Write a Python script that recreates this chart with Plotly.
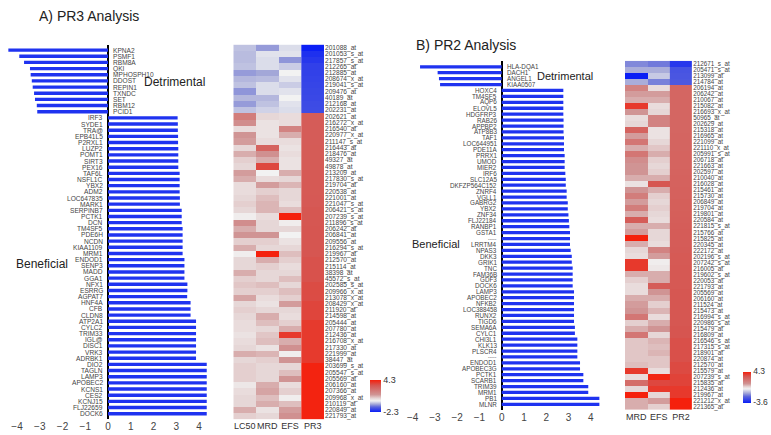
import plotly.graph_objects as go

W, H = 771, 435
FONT = "Liberation Sans, Arial, sans-serif"

# ---------------- Panel A: PR3 ----------------
genes_a = ["KPNA2", "PSMF1", "RBM8A", "QKI", "MPHOSPH10", "DDOST", "REPIN1", "TXNDC", "SET", "RBM12", "PCID1",
           "IRF3", "SYDE1", "TRA@", "EPB41L5", "P2RXL1", "LUZP2", "POMT1", "SIRT3", "PEX16", "TAF6L", "NSFL1C",
           "YBX2", "ADM2", "LOC647835", "MARK1", "SERPINB7", "PCTK1", "DCN", "TM4SF5", "PDE6H", "NCDN",
           "KIAA1109", "MRM1", "ENDOD1", "SENP3", "MADD", "GGA1", "NFX1", "ESRRG", "AGPAT7", "HNF4A", "CFB",
           "CLDN8", "ATP2A1", "CYLC2", "TRIM33", "IGL@", "DISC1", "VRK3", "ADRBK1", "DIO2", "TAGLN", "LAMP3",
           "APOBEC2", "KCNS1", "CES2", "KCNJ15", "FLJ22659", "DOCK6"]
probes_a = ["201088_at", "201053_s_at", "217857_s_at", "212265_at", "212885_at", "208674_x_at", "219041_s_at",
            "209476_at", "40189_at", "212168_at", "202231_at", "202621_at", "216272_x_at", "216540_at",
            "220977_x_at", "211147_s_at", "216443_at", "218476_at", "49327_at", "49878_at", "213209_at",
            "217830_s_at", "219704_at", "220538_at", "221001_at", "221047_s_at", "206421_s_at", "207239_s_at",
            "211896_s_at", "206242_at", "206841_at", "209556_at", "216294_s_at", "219967_at", "212570_at",
            "215114_at", "38398_at", "45572_s_at", "202585_s_at", "209966_x_at", "213078_x_at", "208429_x_at",
            "211920_at", "214598_at", "205444_at", "207780_at", "212436_at", "216708_x_at", "217330_at",
            "221999_at", "38447_at", "203699_s_at", "205547_s_at", "205569_at", "206160_at", "207366_at",
            "209968_x_at", "210119_at", "220849_at", "221793_at"]
pr3_score = [-4.38, -3.90, -3.69, -3.43, -3.40, -3.35, -3.31, -3.25, -3.21, -3.13, -3.11,
             3.06, 3.07, 3.07, 3.08, 3.08, 3.09, 3.09, 3.09, 3.09, 3.15, 3.15, 3.15, 3.15, 3.16, 3.16,
             3.24, 3.24, 3.24, 3.28, 3.28, 3.28, 3.28, 3.28, 3.36, 3.36, 3.36, 3.36, 3.49, 3.49, 3.48,
             3.63, 3.63, 3.63, 3.87, 3.87, 3.87, 3.87, 3.87, 3.87, 3.87,
             4.34, 4.34, 4.34, 4.34, 4.34, 4.34, 4.34, 4.34, 4.34]
lc50_a = [-0.45, -0.5, -0.5, -0.45, -0.8, -0.55, -0.45, -0.85, -0.55, -0.8, -0.45,
          2.0, 1.5, 0.4, 1.3, 1.2, 0.5, 1.0, 0.6, 0.5, 1.2, 1.0, 0.4, 0.4, 0.5, 0.6, 0.5, 0.1, 1.5,
          1.0, 1.3, 0.6, 1.0, 0.1, 0.5, 0.5, 1.0, 0.6, 0.7, 0.6, 1.1, 0.5, 0.6, 0.5, 0.4, 0.4, 0.3, 0.4,
          0.5, 1.0, 0.5, 0.6, 0.6, 0.6, 0.2, 0.4, 0.5, 0.5, 1.0, 0.6]
mrd_a = [-0.8, -0.15, -0.2, -0.2, -0.7, -0.5, -0.2, -0.2, -0.55, -0.45, -0.3,
         0.5, 0.3, 0.3, 0.3, 0.4, 2.8, 1.4, 1.0, 3.5, 0.0, 0.4, 1.2, 0.6, 0.8, 0.9, 0.9, 0.4, 0.5,
         0.5, 1.3, 0.6, 0.5, 4.3, 1.0, 0.6, 0.5, 0.5, 0.8, 0.6, 0.4, 0.3, 0.5, 1.0, 0.8, 0.5, 0.7, 0.8,
         0.3, 0.9, 0.6, 0.5, 0.5, 0.5, 1.0, 1.1, 0.8, 1.0, 0.3, 0.5]
efs_a = [-0.2, -0.15, -0.85, -0.35, 0.0, -0.15, -0.35, -0.15, 0.0, -0.15, -0.2,
         0.4, 0.4, 1.8, 1.0, 0.4, 0.3, 0.4, 0.3, 0.3, 1.0, 0.5, 0.9, 0.5, 0.5, 0.4, 0.8, 4.3, 0.1,
         0.5, 0.0, 0.3, 0.5, 0.8, 0.6, 0.4, 0.5, 0.8, 0.5, 0.8, 0.6, 1.2, 0.5, 0.4, 0.6, 1.0, 3.8, 1.0,
         1.4, 0.1, 1.3, 0.5, 0.8, 1.3, 0.4, 0.6, 0.1, 0.8, 1.2, 1.4]
cols_a = ["LC50", "MRD", "EFS", "PR3"]
range_a = [-2.3, 4.3]

# ---------------- Panel B: PR2 ----------------
genes_b = ["HLA-DQA1", "DACH1", "ANGEL1", "KIAA0507",
           "HOXC4", "TM4SF5", "AQP6", "ELOVL5", "HDGFRP3", "RAB26", "APPBP2", "ATP8B3", "TAF1", "LOC644951",
           "PDE11A", "PRRX1", "UMOD", "MIER2", "IRF6", "SLC12A5", "DKFZP564C152", "ZNRF4", "VGLL1", "GABRG2",
           "YBX2", "ZNF34", "FLJ22184", "RANBP1", "GSTA1", "-----", "LRRTM4", "NPAS3", "DKK3", "GRIK1", "TNC",
           "FAM36B", "GDF3", "DOCK6", "LAMP3", "APOBEC2", "NFKB2", "LOC388458", "RUNX2", "TIGD6", "SEMA6A",
           "CYLC1", "CHI3L1", "KLK13", "PLSCR4", "-----", "ENDOD1", "APOBEC3G", "PCTK1", "SCARB1", "TRIM39",
           "MRM1", "PB1", "MLNR"]
probes_b = ["212671_s_at", "205471_s_at", "213099_at", "214784_at",
            "206194_at", "206242_at", "210067_at", "215082_at", "216693_x_at", "50965_at", "202629_at",
            "215318_at", "216965_at", "221099_at", "221110_x_at", "205991_s_at", "206718_at", "221663_at",
            "202597_at", "210040_at", "216028_at", "215461_at", "215730_at", "206849_at", "219704_at",
            "219801_at", "220584_at", "221815_s_at", "215766_at", "215825_at", "220345_at", "222172_at",
            "202196_s_at", "207242_s_at", "216005_at", "219602_s_at", "220053_at", "221793_at", "205569_at",
            "206160_at", "211524_at", "215473_at", "216994_s_at", "220986_s_at", "215479_at", "216809_at",
            "216546_s_at", "217315_s_at", "218901_at", "220874_at", "212570_at", "215579_at", "207239_s_at",
            "215835_at", "212436_at", "219967_at", "221212_x_at", "221365_at"]
pr2_score = [-3.67, -2.88, -2.82, -2.77,
             2.77, 2.77, 2.77, 2.77, 2.77, 2.78, 2.78, 2.78, 2.80, 2.80, 2.80, 2.83, 2.83, 2.83, 2.86,
             2.88, 2.88, 2.92, 2.92, 2.97, 2.97, 3.00, 3.02, 3.04, 3.07, 3.07, 3.07, 3.10, 3.15, 3.15,
             3.19, 3.19, 3.19, 3.19, 3.25, 3.25, 3.25, 3.25, 3.25, 3.25, 3.29, 3.29, 3.40, 3.40, 3.40,
             3.40, 3.52, 3.52, 3.67, 3.67, 3.89, 3.89, 4.39, 4.39]
mrd_b = [-1.5, -1.0, -3.6, -1.0,
         1.8, 1.2, 1.0, 3.8, 1.3, 0.4, 0.5, 2.8, 1.2, 2.2, 1.0, 2.2, 1.5, 1.3, 1.3, 1.0, 0.3, 1.3, 2.0,
         1.2, 2.0, 1.0, 3.0, 1.0, 1.2, 4.3,
         1.0, 0.5, 0.4, 3.8, 3.8, 1.0, 0.6, 0.4, 0.4, 1.0, 1.2, 1.3, 2.2, 0.6, 1.0, 2.2, 0.7, 0.7, 0.7,
         0.7, 0.8, 3.8, 0.4, 2.5, 0.5, 4.3, 1.0, 1.0]
efs_b = [-1.7, -1.0, -0.6, -1.6,
         0.4, 1.2, 1.0, 0.4, 0.5, 1.8, 1.8, 0.3, 0.3, 0.5, 0.7, 1.0, 0.6, 0.5, 0.6, 1.0, 3.2, 1.0, 0.6,
         0.5, 0.6, 0.5, 0.4, 1.0, 0.5, 0.5,
         0.4, 1.8, 1.2, 0.1, 0.2, 1.0, 1.0, 3.0, 1.3, 1.0, 0.6, 0.9, 0.4, 1.0, 1.3, 0.5, 0.9, 0.8, 0.9,
         0.7, 0.7, 0.4, 4.2, 3.5, 3.8, 0.5, 1.2, 0.6]
cols_b = ["MRD", "EFS", "PR2"]
range_b = [-3.6, 4.3]

score_range = [-4.4, 4.4]
bar_ticks = [-4, -3, -2, -1, 0, 1, 2, 3, 4]


def div_scale(zmin, zmax):
    w = -zmin / (zmax - zmin)
    neg = [(0.0, "#0a1ef5"), (0.45, "#5a64dc"), (0.7, "#a4a8d8"), (1.0, "#f2f2f2")]
    pos = [(0.12, "#e6d6d6"), (0.3, "#d09494"), (0.75, "#d65550"), (1.0, "#f5200c")]
    return [[w * f, c] for f, c in neg] + [[w + (1 - w) * f, c] for f, c in pos]


def px(x):
    return x / W


def py(y):
    return (H - y) / H


fig = go.Figure()

# ---- bars A
fig.add_trace(go.Bar(x=pr3_score, y=probes_a, orientation="h", marker=dict(color="#1f33f0", line_width=0),
                     width=0.55, xaxis="x", yaxis="y", showlegend=False))
# ---- heatmap A (three study columns share the colour bar, PR3 column drawn from the scores)
n_a = len(cols_a) - 1
fig.add_trace(go.Heatmap(z=[list(r) for r in zip(lc50_a, mrd_a, efs_a)], x=list(range(n_a)), y=probes_a,
                         zmin=range_a[0], zmax=range_a[1], colorscale=div_scale(*range_a),
                         xaxis="x2", yaxis="y2",
                         colorbar=dict(x=px(370), xanchor="left", xpad=0, thickness=11,
                                       len=32 / H, lenmode="fraction", y=py(396), yanchor="middle", ypad=0,
                                       outlinewidth=0, tickvals=range_a, ticktext=["-2.3", "4.3"],
                                       ticks="", tickfont=dict(size=9, color="#333", family=FONT))))
fig.add_trace(go.Heatmap(z=[[v] for v in pr3_score], x0=n_a, dx=1, y=probes_a,
                         zmin=score_range[0], zmax=score_range[1], colorscale=div_scale(*score_range),
                         showscale=False, xaxis="x2", yaxis="y2"))
# ---- bars B
fig.add_trace(go.Bar(x=pr2_score, y=probes_b, orientation="h", marker=dict(color="#1f33f0", line_width=0),
                     width=0.55, xaxis="x3", yaxis="y3", showlegend=False))
# ---- heatmap B
n_b = len(cols_b) - 1
fig.add_trace(go.Heatmap(z=[list(r) for r in zip(mrd_b, efs_b)], x=list(range(n_b)), y=probes_b,
                         zmin=range_b[0], zmax=range_b[1], colorscale=div_scale(*range_b),
                         xaxis="x4", yaxis="y4",
                         colorbar=dict(x=px(743), xanchor="left", xpad=0, thickness=8,
                                       len=31 / H, lenmode="fraction", y=py(387), yanchor="middle", ypad=0,
                                       outlinewidth=0, tickvals=range_b, ticktext=["-3.6", "4.3"],
                                       ticks="", tickfont=dict(size=8.5, color="#333", family=FONT))))
fig.add_trace(go.Heatmap(z=[[v] for v in pr2_score], x0=n_b, dx=1, y=probes_b,
                         zmin=score_range[0], zmax=score_range[1], colorscale=div_scale(*score_range),
                         showscale=False, xaxis="x4", yaxis="y4"))

bar_x = dict(tickvals=bar_ticks, showgrid=False, zeroline=True, zerolinecolor="#000", zerolinewidth=1.5,
             ticks="", showline=False, automargin=False, tickfont=dict(size=10, color="#444", family=FONT))
bar_y = dict(showticklabels=False, showgrid=False, zeroline=False, ticks="", autorange="reversed",
             type="category", automargin=False)
hm_x = dict(side="bottom", ticks="", showgrid=False, zeroline=False, showline=False, tickangle=0,
            automargin=False, tickfont=dict(size=9, color="#333", family=FONT))


def hm_y(probes, size):
    return dict(side="right", ticks="", showgrid=False, zeroline=False, autorange="reversed", type="category",
                tickmode="array", tickvals=probes, ticktext=probes, automargin=False,
                tickfont=dict(size=size, color="#444", family=FONT))


ya_dom = [py(419.2), py(44.6)]
yb_dom = [py(409.8), py(60.8)]

fig.update_layout(
    width=W, height=H, margin=dict(l=0, r=0, t=0, b=0, autoexpand=False),
    paper_bgcolor="white", plot_bgcolor="white", bargap=0.45,
    font=dict(family=FONT),
    xaxis=dict(domain=[px(108 - 4.6 * 22.75), px(108 + 4.7 * 22.75)], range=[-4.6, 4.7], anchor="y", **bar_x),
    yaxis=dict(domain=ya_dom, anchor="x", **bar_y),
    xaxis2=dict(domain=[px(233.3), px(324)], anchor="y2", range=[-0.5, n_a + 0.5],
                tickvals=list(range(n_a + 1)), ticktext=cols_a, **hm_x),
    yaxis2=dict(domain=ya_dom, anchor="x2", **hm_y(probes_a, 6.6)),
    xaxis3=dict(domain=[px(501.7 - 4.5 * 22.25), px(501.7 + 4.6 * 22.25)], range=[-4.5, 4.6], anchor="y3",
                **bar_x),
    yaxis3=dict(domain=yb_dom, anchor="x3", **bar_y),
    xaxis4=dict(domain=[px(625), px(692.3)], anchor="y4", range=[-0.5, n_b + 0.5],
                tickvals=list(range(n_b + 1)), ticktext=cols_b, **hm_x),
    yaxis4=dict(domain=yb_dom, anchor="x4", **hm_y(probes_b, 6.3)),
)

ann = []
for xa, ya, genes, probes, scores, fs in [("x", "y", genes_a, probes_a, pr3_score, 6.6),
                                          ("x3", "y3", genes_b, probes_b, pr2_score, 6.3)]:
    for g, p, s in zip(genes, probes, scores):
        neg = s < 0
        ann.append(dict(x=0, y=p, xref=xa, yref=ya, text=g, showarrow=False,
                        xanchor="left" if neg else "right", xshift=3 if neg else -3,
                        font=dict(size=fs if not g.startswith("-") else 5, color="#444", family=FONT)))

titles = [("A) PR3 Analysis", 89, 16, 14), ("B) PR2 Analysis", 466, 45, 14),
          ("Detrimental", 174, 82, 12), ("Beneficial", 42, 264, 12),
          ("Detrimental", 565, 76, 11), ("Beneficial", 436, 244, 11)]
for t, x, y, s in titles:
    ann.append(dict(x=px(x), y=py(y), xref="paper", yref="paper", text=t, showarrow=False,
                    xanchor="center", yanchor="middle", font=dict(size=s, color="#222", family=FONT)))
fig.update_layout(annotations=ann)

fig.write_html("out.html", config={"displayModeBar": False},
               post_script="document.body.style.margin='0';document.body.style.overflow='hidden';")
